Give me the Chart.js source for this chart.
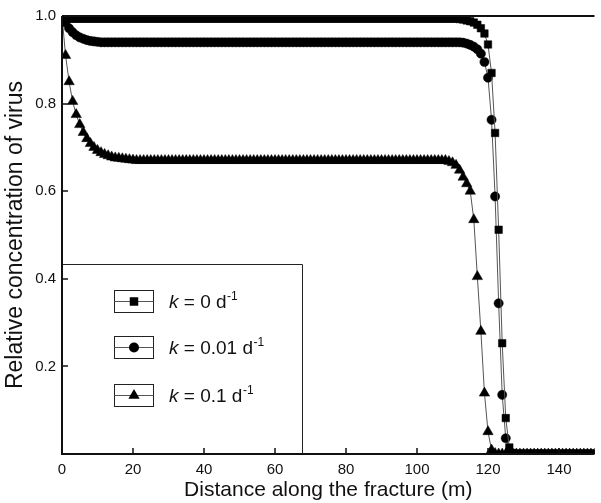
<!DOCTYPE html>
<html>
<head>
<meta charset="utf-8">
<script src="https://cdn.jsdelivr.net/npm/chart.js@4.4.0/dist/chart.umd.min.js"></script>
<style>
  html, body { margin: 0; padding: 0; background: #fff; }
  canvas { display: block; }
</style>
</head>
<body>
<canvas id="virusChart" width="601" height="503"></canvas>
<script>
// distance along the fracture (m)
const distance = [
  0, 1, 2, 3, 4, 5, 6, 7, 8, 9,
  10, 11, 12, 13, 14, 15, 16, 17, 18, 19,
  20, 21, 22, 23, 24, 25, 26, 27, 28, 29,
  30, 31, 32, 33, 34, 35, 36, 37, 38, 39,
  40, 41, 42, 43, 44, 45, 46, 47, 48, 49,
  50, 51, 52, 53, 54, 55, 56, 57, 58, 59,
  60, 61, 62, 63, 64, 65, 66, 67, 68, 69,
  70, 71, 72, 73, 74, 75, 76, 77, 78, 79,
  80, 81, 82, 83, 84, 85, 86, 87, 88, 89,
  90, 91, 92, 93, 94, 95, 96, 97, 98, 99,
  100, 101, 102, 103, 104, 105, 106, 107, 108, 109,
  110, 111, 112, 113, 114, 115, 116, 117, 118, 119,
  120, 121, 122, 123, 124, 125, 126, 127, 128, 129,
  130, 131, 132, 133, 134, 135, 136, 137, 138, 139,
  140, 141, 142, 143, 144, 145, 146, 147, 148, 149,
  150
];

// k = 0 d-1 (squares)
const conc_k0 = [
  1.0, 0.994, 0.994, 0.994, 0.994, 0.994, 0.994, 0.994, 0.994, 0.994,
  0.994, 0.994, 0.994, 0.994, 0.994, 0.994, 0.994, 0.994, 0.994, 0.994,
  0.994, 0.994, 0.994, 0.994, 0.994, 0.994, 0.994, 0.994, 0.994, 0.994,
  0.994, 0.994, 0.994, 0.994, 0.994, 0.994, 0.994, 0.994, 0.994, 0.994,
  0.994, 0.994, 0.994, 0.994, 0.994, 0.994, 0.994, 0.994, 0.994, 0.994,
  0.994, 0.994, 0.994, 0.994, 0.994, 0.994, 0.994, 0.994, 0.994, 0.994,
  0.994, 0.994, 0.994, 0.994, 0.994, 0.994, 0.994, 0.994, 0.994, 0.994,
  0.994, 0.994, 0.994, 0.994, 0.994, 0.994, 0.994, 0.994, 0.994, 0.994,
  0.994, 0.994, 0.994, 0.994, 0.994, 0.994, 0.994, 0.994, 0.994, 0.994,
  0.994, 0.994, 0.994, 0.994, 0.994, 0.994, 0.994, 0.994, 0.994, 0.994,
  0.994, 0.994, 0.994, 0.994, 0.994, 0.994, 0.994, 0.994, 0.994, 0.994,
  0.994, 0.994, 0.993, 0.992, 0.990, 0.988, 0.985, 0.980, 0.972, 0.960,
  0.935, 0.870, 0.733, 0.512, 0.253, 0.082, 0.015, 0.002, 0, 0,
  0, 0, 0, 0, 0, 0, 0, 0, 0, 0,
  0, 0, 0, 0, 0, 0, 0, 0, 0, 0,
  0
];

// k = 0.01 d-1 (circles)
const conc_k001 = [
  1.0, 0.985, 0.972, 0.963, 0.956, 0.951, 0.948, 0.945, 0.943, 0.942,
  0.941, 0.94, 0.94, 0.94, 0.94, 0.94, 0.94, 0.94, 0.94, 0.94,
  0.94, 0.94, 0.94, 0.94, 0.94, 0.94, 0.94, 0.94, 0.94, 0.94,
  0.94, 0.94, 0.94, 0.94, 0.94, 0.94, 0.94, 0.94, 0.94, 0.94,
  0.94, 0.94, 0.94, 0.94, 0.94, 0.94, 0.94, 0.94, 0.94, 0.94,
  0.94, 0.94, 0.94, 0.94, 0.94, 0.94, 0.94, 0.94, 0.94, 0.94,
  0.94, 0.94, 0.94, 0.94, 0.94, 0.94, 0.94, 0.94, 0.94, 0.94,
  0.94, 0.94, 0.94, 0.94, 0.94, 0.94, 0.94, 0.94, 0.94, 0.94,
  0.94, 0.94, 0.94, 0.94, 0.94, 0.94, 0.94, 0.94, 0.94, 0.94,
  0.94, 0.94, 0.94, 0.94, 0.94, 0.94, 0.94, 0.94, 0.94, 0.94,
  0.94, 0.94, 0.94, 0.94, 0.94, 0.94, 0.94, 0.94, 0.94, 0.94,
  0.94, 0.94, 0.94, 0.939, 0.937, 0.934, 0.930, 0.924, 0.914, 0.895,
  0.859, 0.763, 0.588, 0.344, 0.135, 0.036, 0.006, 0.001, 0, 0,
  0, 0, 0, 0, 0, 0, 0, 0, 0, 0,
  0, 0, 0, 0, 0, 0, 0, 0, 0, 0,
  0
];

// k = 0.1 d-1 (triangles)
const conc_k01 = [
  1.0, 0.91, 0.85, 0.805, 0.775, 0.752, 0.734, 0.72, 0.709, 0.70,
  0.693, 0.688, 0.684, 0.681, 0.678, 0.676, 0.675, 0.674, 0.673, 0.672,
  0.671, 0.67, 0.67, 0.67, 0.67, 0.67, 0.67, 0.67, 0.67, 0.67,
  0.67, 0.67, 0.67, 0.67, 0.67, 0.67, 0.67, 0.67, 0.67, 0.67,
  0.67, 0.67, 0.67, 0.67, 0.67, 0.67, 0.67, 0.67, 0.67, 0.67,
  0.67, 0.67, 0.67, 0.67, 0.67, 0.67, 0.67, 0.67, 0.67, 0.67,
  0.67, 0.67, 0.67, 0.67, 0.67, 0.67, 0.67, 0.67, 0.67, 0.67,
  0.67, 0.67, 0.67, 0.67, 0.67, 0.67, 0.67, 0.67, 0.67, 0.67,
  0.67, 0.67, 0.67, 0.67, 0.67, 0.67, 0.67, 0.67, 0.67, 0.67,
  0.67, 0.67, 0.67, 0.67, 0.67, 0.67, 0.67, 0.67, 0.67, 0.67,
  0.67, 0.67, 0.67, 0.67, 0.67, 0.67, 0.67, 0.67, 0.67, 0.668,
  0.665, 0.659, 0.648, 0.632, 0.617, 0.600, 0.535, 0.405, 0.280, 0.139,
  0.051, 0.009, 0.001, 0, 0, 0, 0, 0, 0, 0,
  0, 0, 0, 0, 0, 0, 0, 0, 0, 0,
  0, 0, 0, 0, 0, 0, 0, 0, 0, 0,
  0
];

const xTicks = [0, 20, 40, 60, 80, 100, 120, 140];
const yTicks = [0.2, 0.4, 0.6, 0.8, 1.0];
const kValues = ['0', '0.01', '0.1'];
const markerStyles = ['rect', 'circle', 'triangle'];
const markerSizes = [5.3, 4.6, 6];

const FONT = 'Arial, "Liberation Sans", Helvetica, sans-serif';

function toPoints(vals) {
  return distance.map((d, i) => ({ x: d, y: vals[i] }));
}

function drawMarker(ctx, style, cx, cy, r) {
  ctx.beginPath();
  if (style === 'rect') {
    const s = r * Math.SQRT1_2;
    ctx.rect(cx - s, cy - s, 2 * s, 2 * s);
  } else if (style === 'circle') {
    ctx.arc(cx, cy, r, 0, Math.PI * 2);
  } else {
    const h = r * Math.sin(Math.PI / 3);
    ctx.moveTo(cx, cy - r);
    ctx.lineTo(cx + h, cy + r / 2);
    ctx.lineTo(cx - h, cy + r / 2);
    ctx.closePath();
  }
  ctx.fill();
}

// axes frame, inward ticks and the boxed legend
const framePlugin = {
  id: 'frame',
  afterDatasetsDraw(chart) {
    const { ctx, chartArea: a, scales: { x, y } } = chart;
    ctx.save();

    // legend box
    const lgTop = 264, lgRight = 302;
    ctx.fillStyle = '#fff';
    ctx.fillRect(a.left, lgTop, lgRight - a.left, a.bottom - lgTop);
    ctx.strokeStyle = '#222';
    ctx.lineWidth = 1;
    ctx.beginPath();
    ctx.moveTo(a.left, lgTop + 0.5);
    ctx.lineTo(lgRight + 0.5, lgTop + 0.5);
    ctx.lineTo(lgRight + 0.5, a.bottom);
    ctx.stroke();

    const rowsY = [301, 347, 395];
    const legendSizes = [6, 5, 6.5];
    rowsY.forEach((cy, i) => {
      ctx.strokeStyle = '#222';
      ctx.lineWidth = 1;
      ctx.strokeRect(114.5, cy - 10.5, 39, 22);
      ctx.strokeStyle = '#555';
      ctx.beginPath();
      ctx.moveTo(114.5, cy + 0.5);
      ctx.lineTo(153.5, cy + 0.5);
      ctx.stroke();
      ctx.fillStyle = '#000';
      drawMarker(ctx, markerStyles[i], 134, cy + 0.5, legendSizes[i]);

      let tx = 169;
      const base = cy + 7;
      ctx.fillStyle = '#111';
      ctx.textBaseline = 'alphabetic';
      ctx.textAlign = 'left';
      ctx.font = 'italic 19px ' + FONT;
      ctx.fillText('k', tx, base);
      tx += ctx.measureText('k').width;
      ctx.font = '19px ' + FONT;
      const main = ' = ' + kValues[i] + ' d';
      ctx.fillText(main, tx, base);
      tx += ctx.measureText(main).width + 0.5;
      ctx.font = '12px ' + FONT;
      ctx.fillText('-1', tx, base - 8);
    });

    // axis lines
    ctx.strokeStyle = '#111';
    ctx.lineWidth = 2;
    ctx.beginPath();
    ctx.moveTo(a.left, a.top);
    ctx.lineTo(a.right, a.top);
    ctx.moveTo(a.left, a.top);
    ctx.lineTo(a.left, a.bottom);
    ctx.lineTo(a.right, a.bottom);
    ctx.stroke();

    // inward ticks
    ctx.lineWidth = 1.5;
    ctx.beginPath();
    x.ticks.forEach(t => {
      const px = Math.round(x.getPixelForValue(t.value));
      ctx.moveTo(px, a.bottom);
      ctx.lineTo(px, a.bottom - 6);
    });
    y.ticks.forEach(t => {
      const py = Math.round(y.getPixelForValue(t.value));
      ctx.moveTo(a.left, py);
      ctx.lineTo(a.left + 6, py);
    });
    ctx.stroke();
    ctx.restore();
  }
};

const seriesVals = [conc_k0, conc_k001, conc_k01];

new Chart(document.getElementById('virusChart').getContext('2d'), {
  type: 'line',
  data: {
    datasets: seriesVals.map((vals, i) => ({
      label: 'k = ' + kValues[i] + ' d-1',
      data: toPoints(vals),
      borderColor: '#555',
      borderWidth: 1,
      pointStyle: markerStyles[i],
      pointRadius: markerSizes[i],
      pointBackgroundColor: '#000',
      pointBorderColor: '#000',
      pointBorderWidth: 0.5,
      tension: 0,
      clip: 0
    }))
  },
  options: {
    responsive: false,
    animation: false,
    devicePixelRatio: 1,
    layout: { padding: { top: 16, right: 0, left: 0, bottom: 0 } },
    plugins: {
      legend: { display: false },
      tooltip: { enabled: false }
    },
    scales: {
      x: {
        type: 'linear',
        min: 0,
        max: 150,
        afterBuildTicks: s => { s.ticks = xTicks.map(v => ({ value: v })); },
        afterFit: s => { s.height = 49; },
        grid: { display: false, drawTicks: false },
        border: { display: false },
        ticks: {
          padding: 7,
          maxRotation: 0,
          color: '#111',
          font: { family: FONT, size: 15 },
          callback: v => String(v)
        },
        title: {
          display: true,
          text: 'Distance along the fracture (m)',
          color: '#111',
          font: { family: FONT, size: 21 },
          padding: { top: 0, bottom: 0 }
        }
      },
      y: {
        min: 0,
        max: 1.0,
        afterBuildTicks: s => { s.ticks = yTicks.map(v => ({ value: v })); },
        afterFit: s => { s.width = 62; },
        grid: { display: false, drawTicks: false },
        border: { display: false },
        ticks: {
          padding: 6,
          color: '#111',
          font: { family: FONT, size: 15 },
          callback: v => v.toFixed(1)
        },
        title: {
          display: true,
          text: 'Relative concentration of virus',
          color: '#111',
          font: { family: FONT, size: 23 },
          padding: { top: 2, bottom: 4 }
        }
      }
    }
  },
  plugins: [framePlugin]
});
</script>
</body>
</html>
